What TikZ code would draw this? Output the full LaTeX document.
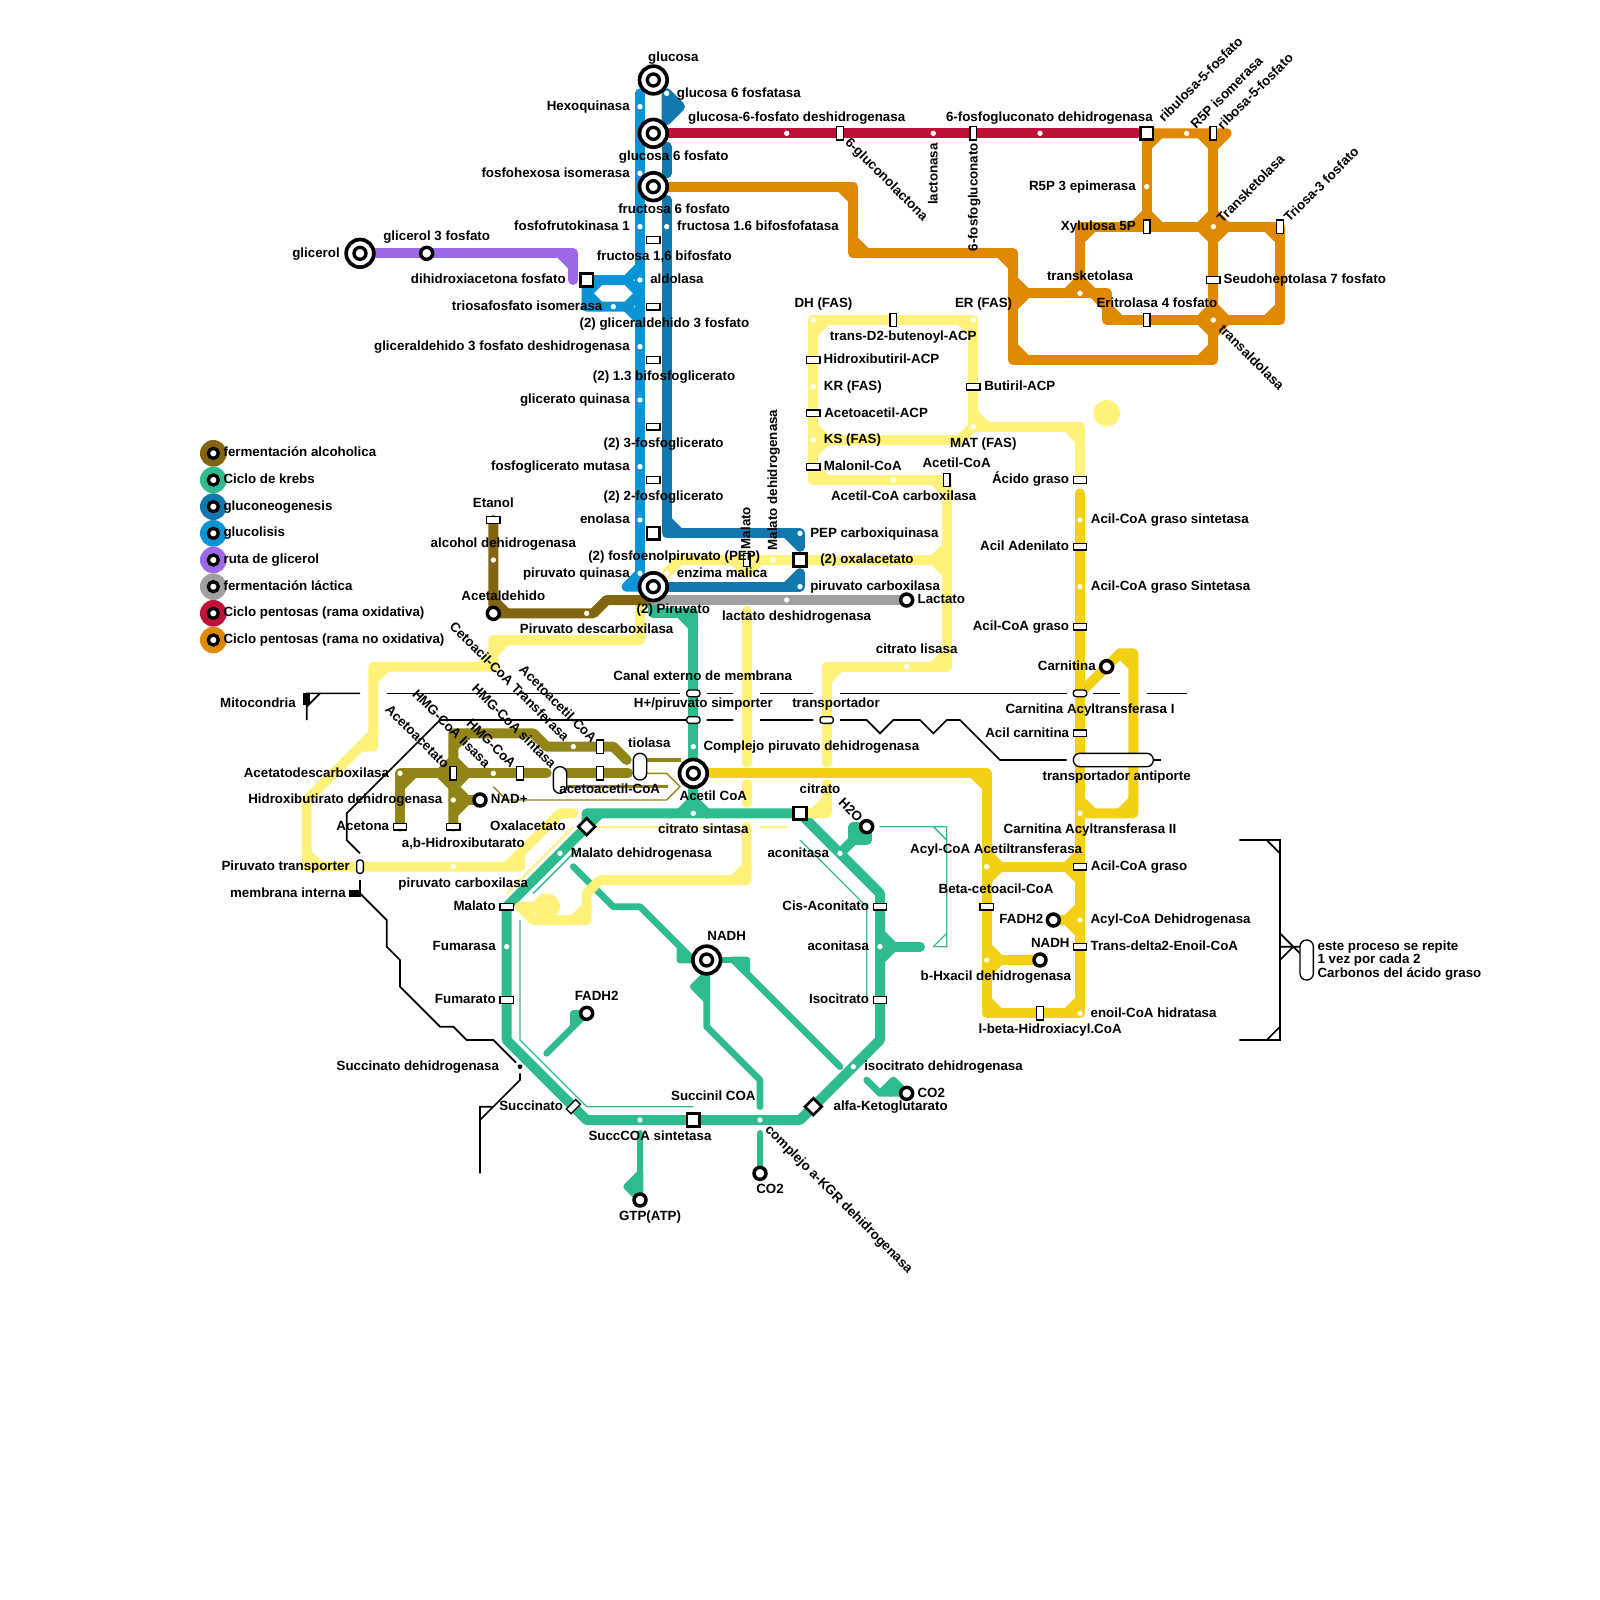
\documentclass[tikz,border=0pt]{standalone}
\usepackage{fontspec}
\setmainfont{Liberation Sans}
\definecolor{cBlue}{HTML}{0A94D6}
\definecolor{cDark}{HTML}{1279AF}
\definecolor{cRed}{HTML}{BE1038}
\definecolor{cOrange}{HTML}{E08900}
\definecolor{cLight}{HTML}{FFF27A}
\definecolor{cGold}{HTML}{F2D016}
\definecolor{cGreen}{HTML}{2FBB90}
\definecolor{cBrown}{HTML}{826411}
\definecolor{cOlive}{HTML}{918518}
\definecolor{cPurple}{HTML}{9C69E8}
\definecolor{cGray}{HTML}{A0A0A0}
\pgfdeclarelayer{lines}
\pgfsetlayers{lines,main}
\tikzset{
 ln/.style={line width=7.5pt,line cap=round,line join=round},
 lnb/.style={line width=5pt,line cap=round,line join=round},
 lnt/.style={line width=1pt,line cap=butt,line join=miter},
 lnk/.style={line width=1.25pt,line cap=butt,line join=miter,black},
 lab/.style={font=\fontsize{10}{10}\selectfont\bfseries,inner sep=0pt,text=black},
 wdot/.style={circle,fill=white,inner sep=0pt,minimum size=4pt},
 rh/.style={rectangle,draw=black,fill=white,line width=1pt,inner sep=0pt,minimum width=10pt,minimum height=5pt},
 rv/.style={rectangle,draw=black,fill=white,line width=1pt,inner sep=0pt,minimum width=5pt,minimum height=10pt},
 ph/.style={rh,rounded corners=2pt},
 pv/.style={rv,rounded corners=2pt},
 pillbox/.style={rectangle,draw=black,fill=white,line width=1pt,inner sep=0pt,rounded corners=4.9pt},
 smallst/.style={circle,draw=black,fill=white,line width=2.6pt,inner sep=0pt,minimum size=9pt},
 bigst/.style={circle,draw=black,fill=white,line width=2.75pt,inner sep=0pt,minimum size=20.75pt,
   path picture={\draw[line width=2.5pt] (path picture bounding box.center) circle (4.5);}},
 sqst/.style={rectangle,draw=black,fill=white,line width=2pt,inner sep=0pt,minimum size=9.5pt},
 dmst/.style={sqst,rotate=45,minimum size=8.8pt},
 legbg/.style={circle,inner sep=0pt,minimum size=20pt},
 legst/.style={circle,draw=black,fill=white,line width=2.5pt,inner sep=0pt,minimum size=7.5pt},
}
\newcounter{tn}
\newcommand{\LE}[3]{\stepcounter{tn}\node[lab,anchor=mid east,yshift=-1.25pt] (t\arabic{tn}) at (#1,#2) {#3};}
\newcommand{\LW}[3]{\stepcounter{tn}\node[lab,anchor=mid west,yshift=-1.25pt] (t\arabic{tn}) at (#1,#2) {#3};}
\newcommand{\LC}[3]{\stepcounter{tn}\node[lab,anchor=mid,yshift=-1.25pt] (t\arabic{tn}) at (#1,#2) {#3};}
\newcommand{\LR}[4]{\stepcounter{tn}\node[lab,anchor=mid,rotate=#1,yshift=-1.4pt] (t\arabic{tn}) at (#2,#3) {#4};}
\newcommand{\Chams}[2]{\foreach \cx/\cy/\ca/\cb in {#2} {\draw[#1] (\cx+10*\ca,\cy) -- (\cx,\cy+10*\cb);}}
\begin{document}
\begin{tikzpicture}[x=1pt,y=-1pt]
\useasboundingbox (0,0) rectangle (1200,1200);
% ---------- stations
\node[bigst] (glc) at (490,60) {};
\node[bigst] (gsp) at (490,100) {};
\node[bigst] (fsp) at (490,140) {};
\node[bigst] (pyr) at (490,440) {};
\node[bigst] (acc) at (520,580) {};
\node[bigst] (nadh) at (530,720) {};
\node[bigst] (gly) at (270,190) {};
\node[smallst] (g3p) at (320,190) {};
\node[smallst] (aceta) at (370,460) {};
\node[smallst] (lac) at (680,450) {};
\node[smallst] (carn) at (830,500) {};
\node[smallst] (fadA) at (790,690) {};
\node[smallst] (nadhB) at (780,720) {};
\node[smallst] (nadp) at (360,600) {};
\node[smallst] (water) at (650,620) {};
\node[smallst] (coA) at (680,820) {};
\node[smallst] (coB) at (570,880) {};
\node[smallst] (gtp) at (480,900) {};
\node[smallst] (fadB) at (440,760) {};
\node[sqst] (dhap) at (440,210) {};
\node[sqst] (pep) at (490,400) {};
\node[sqst] (oaa) at (600,420) {};
\node[sqst] (rib) at (860,100) {};
\node[sqst] (cit) at (600,610) {};
\node[sqst] (suc) at (520,840) {};
\node[dmst] (oxa) at (440,620) {};
\node[dmst] (akg) at (610,830) {};
\foreach \x/\y [count=\i] in {490/180,490/230,490/270,490/320,490/360,370/390,810/360,810/410,810/470,810/550,810/650,810/710,740/680,610/270,610/310,610/350,730/290,910/210,380/680,380/750,660/680,660/750,300/620,340/620}
  {\node[rh] (rh\i) at (\x,\y) {};}
\foreach \x/\y [count=\i] in {630/100,730/100,910/100,860/170,960/170,860/240,670/240,710/360,560/420,340/580,390/580,450/580,450/560,780/760}
  {\node[rv] (rv\i) at (\x,\y) {};}
\foreach \x/\y [count=\i] in {520/520,520/540,620/540,810/520}
  {\node[ph] (ph\i) at (\x,\y) {};}
\node[pv] (pv1) at (270,650) {};
\node[rv,rotate=-45] (succ) at (430,830) {};
\node[pillbox,minimum width=10pt,minimum height=20pt] (pillA) at (420,585) {};
\node[pillbox,minimum width=10pt,minimum height=20pt] (pillB) at (480,575) {};
\node[pillbox,minimum width=60pt,minimum height=10pt] (pillC) at (835,570) {};
\node[pillbox,minimum width=10pt,minimum height=30pt] (pillD) at (980,720) {};
\foreach \x/\y [count=\i] in {480/80,480/130,480/170,480/210,480/260,480/300,480/350,480/390,480/430,460/230,500/70,500/170,600/400,600/440,590/100,700/100,780/100,890/100,860/140,910/170,910/240,810/220,610/240,730/240,610/290,610/330,730/320,670/360,680/500,500/430,580/420,340/650,810/390,810/440,810/610,810/690,810/760,740/650,740/720,520/560,520/610,380/710,420/640,630/640,660/710,640/800,480/840,570/840,370/420,440/460,590/450,300/580,370/580,340/600,430/560}
  {\node[wdot] (wd\i) at (\x,\y) {};}
\node[circle,fill=black,inner sep=0pt,minimum size=3.5pt] (sdh) at (390,800) {};
% ---------- legend
\foreach \c/\y/\t [count=\i] in {cBrown/340/fermentación alcoholica,cGreen/360/Ciclo de krebs,cDark/380/gluconeogenesis,cBlue/400/glucolisis,cPurple/420/ruta de glicerol,cGray/440/fermentación láctica,cRed/460/Ciclo pentosas (rama oxidativa),cOrange/480/Ciclo pentosas (rama no oxidativa)}
 {\node[legbg,fill=\c] (lg\i) at (160,\y) {};
  \node[legst] (ls\i) at (160,\y) {};
  \node[lab,anchor=mid west,yshift=-1.25pt] (lt\i) at (167.5,\y-1.25) {\t};}
% ---------- labels
\LC{505}{42}{glucosa}
\LW{507.5}{69}{glucosa 6 fosfatasa}
\LE{472.5}{79}{Hexoquinasa}
\LC{597.5}{87}{glucosa-6-fosfato deshidrogenasa}
\LC{787}{87}{6-fosfogluconato dehidrogenasa}
\LW{464}{116.5}{glucosa 6 fosfato}
\LE{472.5}{129}{fosfohexosa isomerasa}
\LW{463.5}{156.5}{fructosa 6 fosfato}
\LW{507.7}{169}{fructosa 1.6 bifosfofatasa}
\LE{472.5}{169}{fosfofrutokinasa 1}
\LW{447.5}{191.5}{fructosa 1,6 bifosfato}
\LE{255}{189}{glicerol}
\LC{327.5}{176.5}{glicerol 3 fosfato}
\LE{424.5}{209}{dihidroxiacetona fosfato}
\LW{487.5}{209}{aldolasa}
\LE{452}{229}{triosafosfato isomerasa}
\LW{434.5}{241.5}{(2) gliceraldehido 3 fosfato}
\LE{472.5}{259}{gliceraldehido 3 fosfato deshidrogenasa}
\LW{444.5}{281.5}{(2) 1.3 bifosfoglicerato}
\LE{472.5}{299}{glicerato quinasa}
\LW{452.5}{331.5}{(2) 3-fosfoglicerato}
\LE{472.5}{349}{fosfoglicerato mutasa}
\LW{452.5}{371.5}{(2) 2-fosfoglicerato}
\LE{472.5}{389}{enolasa}
\LW{441}{416.5}{(2) fosfoenolpiruvato (PEP)}
\LE{472.5}{429}{piruvato quinasa}
\LW{507.5}{429}{enzima malica}
\LW{607.5}{399}{PEP carboxiquinasa}
\LW{615}{419}{(2) oxalacetato}
\LW{607.5}{439}{piruvato carboxilasa}
\LW{688}{449}{Lactato}
\LC{597.5}{461.5}{lactato deshidrogenasa}
\LC{505}{456.5}{(2) Piruvato}
\LC{447.5}{471.5}{Piruvato descarboxilasa}
\LC{377.5}{446.5}{Acetaldehido}
\LC{377.5}{406.5}{alcohol dehidrogenasa}
\LC{370}{376.5}{Etanol}
\LR{90}{558.75}{396}{Malato}
\LR{90}{578.75}{360}{Malato dehidrogenasa}
\LC{527}{506.5}{Canal externo de membrana}
\LC{527.5}{526.5}{H+/piruvato simporter}
\LC{627}{526.5}{transportador}
\LE{222}{526.5}{Mitocondria}
\LW{617.75}{289}{KR (FAS)}
\LW{618}{309}{Acetoacetil-ACP}
\LW{617.75}{329}{KS (FAS)}
\LW{617.75}{349}{Malonil-CoA}
\LW{738}{289}{Butiril-ACP}
\LC{737.5}{331.5}{MAT (FAS)}
\LC{717.5}{346.5}{Acetil-CoA}
\LC{677.75}{371.5}{Acetil-CoA carboxilasa}
\LE{802}{359}{Ácido graso}
\LW{818}{389}{Acil-CoA graso sintetasa}
\LE{802}{409}{Acil Adenilato}
\LW{818}{439}{Acil-CoA graso Sintetasa}
\LE{802}{469}{Acil-CoA graso}
\LE{822}{499}{Carnitina}
\LC{687.5}{486.5}{citrato lisasa}
\LC{817.5}{531.5}{Carnitina Acyltransferasa I}
\LR{-45}{665.5}{134}{6-gluconolactona}
\LR{90}{699.2}{130.5}{lactonasa}
\LR{90}{729.2}{148}{6-fosfogluconato}
\LR{45}{900}{59}{ribulosa-5-fosfato}
\LR{45}{919.5}{69}{R5P isomerasa}
\LR{45}{941}{68}{ribosa-5-fosfato}
\LR{45}{937.5}{141}{Transketolasa}
\LR{45}{990.5}{138}{Triosa-3 fosfato}
\LE{852}{139}{R5P 3 epimerasa}
\LE{852}{169}{Xylulosa 5P}
\LW{917.6}{209}{Seudoheptolasa 7 fosfato}
\LC{817.5}{206.5}{transketolasa}
\LC{867.7}{226.5}{Eritrolasa 4 fosfato}
\LR{-45}{939}{267.5}{transaldolasa}
\LC{617.6}{226.5}{DH (FAS)}
\LC{737.7}{226.5}{ER (FAS)}
\LC{677.4}{251.5}{trans-D2-butenoyl-ACP}
\LW{617.6}{269}{Hidroxibutiril-ACP}
\LR{-45}{382.5}{510.6}{Cetoacil-CoA Transferasa}
\LR{-45}{419}{527.5}{Acetoacetil-CoA}
\LR{-45}{386}{544}{HMG-CoA sintasa}
\LR{-45}{339}{546}{HMG-CoA lisasa}
\LR{-45}{369}{557}{HMG-CoA}
\LR{-45}{313.5}{552}{Acetoacetato}
\LC{487}{556.5}{tiolasa}
\LC{457.3}{591.5}{acetoacetil-CoA}
\LC{535}{596.5}{Acetil CoA}
\LW{368}{599}{NAD+}
\LE{424.5}{619}{Oxalacetato}
\LC{347.5}{631.5}{a,b-Hidroxibutarato}
\LE{292}{619}{Acetona}
\LE{292}{579}{Acetatodescarboxilasa}
\LE{332}{599}{Hidroxibutirato dehidrogenasa}
\LE{262.5}{649}{Piruvato transporter}
\LE{259.5}{669}{membrana interna}
\LC{347.5}{661.5}{piruvato carboxilasa}
\LW{428}{639}{Malato dehidrogenasa}
\LE{372}{679}{Malato}
\LE{372}{709}{Fumarasa}
\LW{527.5}{559}{Complejo piruvato dehidrogenasa}
\LC{615}{591.5}{citrato}
\LR{-45}{638.5}{607}{H2O}
\LC{527.5}{621.5}{citrato sintasa}
\LE{622}{639}{aconitasa}
\LE{652}{679}{Cis-Aconitato}
\LE{652}{709}{aconitasa}
\LE{652}{749}{Isocitrato}
\LC{545}{701.5}{NADH}
\LE{811.8}{636.5}{Acyl-CoA Acetiltransferasa}
\LE{790.3}{666.5}{Beta-cetoacil-CoA}
\LE{802}{549}{Acil carnitina}
\LC{837.5}{581.5}{transportador antiporte}
\LC{817.5}{621.5}{Carnitina Acyltransferasa II}
\LW{818}{649}{Acil-CoA graso}
\LE{782.6}{689}{FADH2}
\LW{817.75}{689}{Acyl-CoA Dehidrogenasa}
\LC{787.7}{706.5}{NADH}
\LW{817.75}{709}{Trans-delta2-Enoil-CoA}
\LE{803.5}{731.5}{b-Hxacil dehidrogenasa}
\LW{817.75}{759}{enoil-CoA hidratasa}
\LC{787.6}{771.5}{l-beta-Hidroxiacyl.CoA}
\LW{988}{709}{este proceso se repite}
\LW{988}{719}{1 vez por cada 2}
\LW{988}{729}{Carbonos del ácido graso}
\LE{372}{749}{Fumarato}
\LC{447.5}{746.5}{FADH2}
\LE{374.4}{799}{Succinato dehidrogenasa}
\LW{648}{799}{isocitrato dehidrogenasa}
\LE{422.5}{829}{Succinato}
\LC{535}{821.5}{Succinil COA}
\LW{625}{829}{alfa-Ketoglutarato}
\LW{688}{819}{CO2}
\LC{487.5}{851.5}{SuccCOA sintetasa}
\LC{577.5}{891.5}{CO2}
\LC{487.5}{911.5}{GTP(ATP)}
\LR{-45}{630}{898.75}{complejo a-KGR dehidrogenasa}
% ---------- lines
\begin{pgfonlayer}{lines}
\fill[white] (0,0) rectangle (1200,1200);
% thin lines
\draw[lnt,cGreen] (659.5,620) -- (710,620) -- (710,710) -- (700,710) (700,620) -- (710,630) (710,700) -- (700,710);
\draw[lnt,cGreen] (600,630) -- (650,680) -- (650,750);
\draw[lnt,cGreen] (400,670) -- (432.5,637.5);
\draw[lnt,cGreen] (390,690) -- (390,780) -- (440,830) -- (520,830);
\draw[lnt,cLight,line width=1.5pt] (380,670) -- (430,620);
\draw[lnt,cLight,line width=1.5pt] (oxa.center) -- (556,620) (570,620) -- (590,620);
% krebs
\draw[ln,cGreen] (490,445) -- (490,460) -- (520,460) -- (acc.center) -- (520,610);
\draw[ln,cGreen] (520,610) -- (cit.center) -- (660,670) -- (660,780) -- (600,840) -- (440,840) -- (380,780) -- (380,680) -- (oxa.center) -- (440,610) -- cycle;
\Chams{ln,cGreen}{520/460/-1/1,520/610/-1/-1,520/610/1/-1,660/710/1/-1,660/710/1/1,440/610/1/1}
\draw[ln,cGreen] (660,710) -- (690,710);
\draw[ln,cGreen] (630,640) -- (640,630);
\draw[ln,cGreen,fill=cGreen] (640,620) -- (650,620) -- (650,630) -- (640,630) -- cycle;
\draw[lnb,cGreen] (430,650) -- (460,680) -- (480,680) -- (510,710);
\draw[lnb,cGreen,fill=cGreen] (510,710) -- (510,720) -- (520,720) -- cycle;
\draw[lnb,cGreen] (510,720) -- (nadh.center);
\draw[lnb,cGreen] (nadh.center) -- (560,720);
\draw[lnb,cGreen,fill=cGreen] (550,720) -- (560,720) -- (560,730) -- cycle;
\draw[lnb,cGreen] (550,720) -- (630,800);
\draw[lnb,cGreen] (nadh.center) -- (530,770) -- (570,810) -- (570,830);
\draw[lnb,cGreen,fill=cGreen] (530,730) -- (520,740) -- (530,750) -- cycle;
\draw[lnb,cGreen] (410,790) -- (430,770);
\draw[lnb,cGreen,fill=cGreen] (430,770) -- (430,760) -- (fadB.center) -- cycle;
\draw[lnb,cGreen] (570,850) -- (coB.center);
\draw[lnb,cGreen] (480,850) -- (gtp.center);
\draw[lnb,cGreen,fill=cGreen] (480,880) -- (470,890) -- (gtp.center) -- cycle;
\draw[lnb,cGreen] (650,810) -- (660,820);
\draw[lnb,cGreen,fill=cGreen] (660,820) -- (670,810) -- (coA.center) -- cycle;
% light yellow
\draw[ln,cLight] (480,452) -- (480,480) -- (370,480) -- (370,500) -- (280,500) -- (280,560) -- (270,560) -- (230,600) -- (230,650) -- (390,650) -- (390,640) -- (420,610) -- (430,610);
\draw[ln,cLight] (500,430) -- (510,420) -- (710,420);
\draw[ln,cLight] (550,420) -- (560,430) -- (570,420);
\draw[ln,cLight] (710,360) -- (710,500) -- (620,500) -- (620,572);
\draw[ln,cLight] (710,360) -- (610,360) -- (610,240) -- (730,240) -- (730,320) -- (810,320) -- (810,360);
\draw[ln,cLight] (620,330) -- (720,330) -- (730,320);
\draw[ln,cLight] (560,458) -- (560,572);
\draw[ln,cLight] (560,588) -- (560,602);
\draw[ln,cLight] (620,588) -- (620,610) -- (cit.center);
\draw[ln,cLight] (560,620) -- (560,660) -- (450,660) -- (440,670) -- (440,690) -- (400,690) -- (390,680) -- (410,680);
\Chams{ln,cLight}{610/240/1/1,730/240/-1/1,610/360/1/-1,710/360/-1/1,610/330/1/1,610/330/1/-1,730/320/1/-1,810/320/-1/1,710/420/-1/-1,710/420/-1/1,710/500/-1/-1,620/500/1/1,370/480/1/1,370/500/-1/-1,280/500/1/1,280/560/-1/-1,230/650/1/-1,390/650/-1/-1,560/660/-1/-1,440/690/-1/-1,620/610/-1/-1}
\fill[cLight] (410,680) circle (10);
\fill[cLight] (830,310) circle (10);
% gold
\draw[ln,cGold] (acc.center) -- (740,580) -- (740,760) -- (810,760) -- (810,370);
\draw[ln,cGold] (740,650) -- (810,650);
\draw[ln,cGold] (810,690) -- (fadA.center);
\draw[ln,cGold] (740,720) -- (nadhB.center);
\draw[ln,cGold] (810,520) -- (840,490) -- (850,490) -- (850,610) -- (810,610);
\Chams{ln,cGold}{740/580/-1/1,740/650/1/-1,740/650/1/1,810/650/-1/1,810/650/-1/-1,810/690/-1/-1,810/690/-1/1,740/720/1/-1,740/720/1/1,740/760/1/-1,810/760/-1/-1,850/490/-1/1,850/610/-1/-1,810/610/1/-1}
% olive
\draw[lnt,cOlive] (370,590) -- (380,600) -- (500,600) -- (510,590) -- (500,580) -- (485,580);
\draw[line width=2.5pt,cOlive] (485,570) -- (511,570) (425,590) -- (501,590);
\draw[ln,cOlive] (340,620) -- (340,550) -- (400,550) -- (410,560) -- (460,560) -- (470,570);
\draw[ln,cOlive] (300,620) -- (300,580) -- (410,580);
\draw[ln,cOlive] (425,580) -- (471,580);
\draw[ln,cOlive] (340,600) -- (nadp.center);
\Chams{ln,cOlive}{340/550/1/1,300/580/1/1,340/580/1/-1,340/580/1/1,340/580/-1/-1,340/580/-1/1,340/600/1/-1,340/600/1/1}
% brown
\draw[ln,cBrown] (rh6.center) -- (aceta.center) -- (445,460) -- (455,450) -- (490,450);
\Chams{ln,cBrown}{370/460/1/-1}
% gray
\draw[ln,cGray] (490,450) -- (lac.center);
% gluconeogenesis
\draw[ln,cDark,fill=cDark] (500,70) -- (510,80) -- (500,90) -- cycle;
\draw[ln,cDark] (500,110) -- (500,130);
\draw[ln,cDark] (500,150) -- (500,400) -- (600,400) -- (600,410);
\draw[ln,cDark] (pyr.center) -- (600,440) -- (600,430);
\Chams{ln,cDark}{500/400/1/-1,600/400/-1/1,600/440/-1/-1}
% glycolysis
\draw[ln,cBlue] (480,70) -- (480,440);
\draw[ln,cBlue] (480,430) -- (470,440) -- (pyr.center);
\draw[ln,cBlue] (dhap.center) -- (470,210) -- (480,220) -- (470,230) -- (440,230) -- (dhap.center);
\Chams{ln,cBlue}{480/210/-1/-1,480/230/-1/1,440/230/1/-1,440/210/1/1}
% glycerol
\draw[ln,cPurple] (gly.center) -- (430,190) -- (430,210);
\Chams{ln,cPurple}{430/190/-1/1}
% red
\draw[ln,cRed] (gsp.center) -- (853,100);
% orange
\draw[ln,cOrange] (fsp.center) -- (640,140) -- (640,190) -- (760,190) -- (760,270) -- (910,270) -- (910,100);
\draw[ln,cOrange] (rib.center) -- (920,100) -- (910,110);
\draw[ln,cOrange] (rib.center) -- (860,170);
\draw[ln,cOrange] (760,220) -- (830,220) -- (830,240) -- (960,240) -- (960,170) -- (810,170) -- (810,220);
\Chams{ln,cOrange}{640/140/-1/1,640/190/1/-1,760/190/-1/1,760/220/1/-1,760/220/1/1,760/270/1/-1,910/270/-1/-1,830/220/-1/1,830/240/1/-1,960/240/-1/-1,960/170/-1/1,810/170/1/1,810/220/-1/-1,810/220/1/-1,860/100/1/1,910/100/-1/1,860/170/-1/-1,860/170/1/-1,910/170/-1/-1,910/170/1/-1,910/170/-1/1,910/170/1/1,910/240/-1/-1,910/240/1/-1,910/240/-1/1,910/240/1/1}
% black membranes
\draw[lnk] (270,520) -- (230,520) -- (230,540) (240,520) -- (230,530);
\fill[black] (227.5,520) rectangle (232.5,529);
\draw[lnk] (290,520) -- (510,520) (530,520) -- (550,520) (570,520) -- (610,520) (630,520) -- (800,520) (820,520) -- (840,520) (860,520) -- (890,520);
\draw[lnk] (ph2.center) -- (330,540) -- (260,610) -- (260,630) -- (270,640);
\draw[lnk] (530,540) -- (550,540) (570,540) -- (610,540) (630,540) -- (650,540) -- (660,550) -- (670,540) -- (690,540) -- (700,550) -- (710,540) -- (720,540) -- (750,570) -- (800,570);
\draw[lnk] (865,570) -- (871,570);
\draw[lnk] (270,660) -- (270,670) -- (290,690) -- (290,710) -- (300,720) -- (300,740) -- (330,770) -- (340,770) -- (350,780) -- (370,780) -- (387,797);
\fill[black] (262,667.5) rectangle (270.5,672.5);
\draw[lnk] (390,805) -- (390,810) -- (360,840) (370,830) -- (360,830) -- (360,880);
\draw[lnk] (929.5,630) -- (960,630) -- (960,780) -- (929.5,780) (950,630) -- (960,640) (960,770) -- (950,780);
\draw[lnk] (960,710) -- (975,710) (960,700) -- (975,715) (960,720) -- (970,710);
\end{pgfonlayer}
\end{tikzpicture}
\end{document}
